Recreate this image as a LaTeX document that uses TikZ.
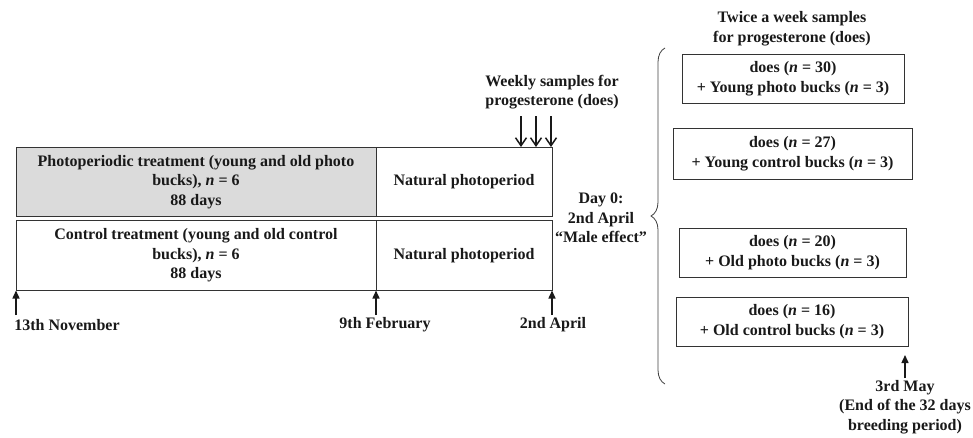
\documentclass[tikz,border=0pt]{standalone}
\usepackage{fontspec}
\setmainfont{Liberation Serif}
\usetikzlibrary{arrows.meta,decorations.pathreplacing}
\begin{document}
\begin{tikzpicture}[x=1pt,y=-1pt,
  every node/.style={font=\fontsize{16pt}{19.5pt}\selectfont\bfseries, inner sep=0pt, outer sep=0pt, text=black!90},
  box/.style={draw=black!80, line width=0.9pt, align=center},
  txt/.style={align=center},
  uparr/.style={line width=1.5pt, black!90, -{Triangle[length=8pt,width=7pt]}},
  dnarr/.style={line width=1.5pt, black!90, -{Straight Barb[length=8pt,width=11pt]}},
  bracestyle/.style={decorate, decoration={brace, amplitude=14pt}, line width=0.8pt, draw=black!75}
]
\useasboundingbox (0,0) rectangle (973,437);

% timeline boxes
\node[box, fill=gray!28, minimum width=360pt, minimum height=69.5pt] (photo) at (196,181.75)
  {Photoperiodic treatment (young and old photo\\bucks), \textit{n} = 6\\88 days};
\node[box, minimum width=176pt, minimum height=69.5pt] (natA) at (464,181.75) {Natural photoperiod};
\node[box, minimum width=360pt, minimum height=70pt] (ctrl) at (196,255.5)
  {Control treatment (young and old control\\bucks), \textit{n} = 6\\88 days};
\node[box, minimum width=176pt, minimum height=70pt] (natB) at (464,255.5) {Natural photoperiod};

% timeline arrows
\coordinate (t1) at (16,315);
\coordinate (t2) at (376,315);
\coordinate (t3) at (552,315);
\draw[uparr] (t1) -- (ctrl.south west);
\draw[uparr] (t2) -- (t2 |- ctrl.south);
\draw[uparr] (t3) -- (natB.south east);
\node[txt] (l1) at (67,325) {13th November};
\node[txt] (l2) at (385,325) {9th February};
\node[txt] (l3) at (553,325) {2nd April};

% weekly samples
\node[txt] (weekly) at (552,92) {Weekly samples for\\progesterone (does)};
\coordinate (w1) at (521,116);
\coordinate (w2) at (536,116);
\coordinate (w3) at (551,116);
\draw[dnarr] (w1) -- (w1 |- natA.north);
\draw[dnarr] (w2) -- (w2 |- natA.north);
\draw[dnarr] (w3) -- (w3 |- natA.north);

% day 0
\node[txt] (day0) at (601,218) {Day 0:\\2nd April\\``Male effect''};

% brace
\coordinate (bb) at (665,384);
\coordinate (bt) at (665,48);
\draw[bracestyle] (bb) -- (bt);

% right side
\node[txt] (twice) at (792,28.5) {Twice a week samples\\for progesterone (does)};
\node[box, minimum width=222pt, minimum height=49pt] (g1) at (793,78.5)
  {does (\textit{n} = 30)\\ + Young photo bucks (\textit{n} = 3)};
\node[box, minimum width=239pt, minimum height=51pt] (g2) at (792.5,153.5)
  {does (\textit{n} = 27)\\ + Young control bucks (\textit{n} = 3)};
\node[box, minimum width=227pt, minimum height=49pt] (g3) at (792.5,252.5)
  {does (\textit{n} = 20)\\ + Old photo bucks (\textit{n} = 3)};
\node[box, minimum width=232pt, minimum height=49pt] (g4) at (792,321.5)
  {does (\textit{n} = 16)\\ + Old control bucks (\textit{n} = 3)};

\coordinate (m0) at (905,378);
\coordinate (m1) at (905,355);
\draw[uparr] (m0) -- (m1);
\node[txt] (may) at (905,407) {3rd May\\(End of the 32 days\\breeding period)};
\end{tikzpicture}
\end{document}
